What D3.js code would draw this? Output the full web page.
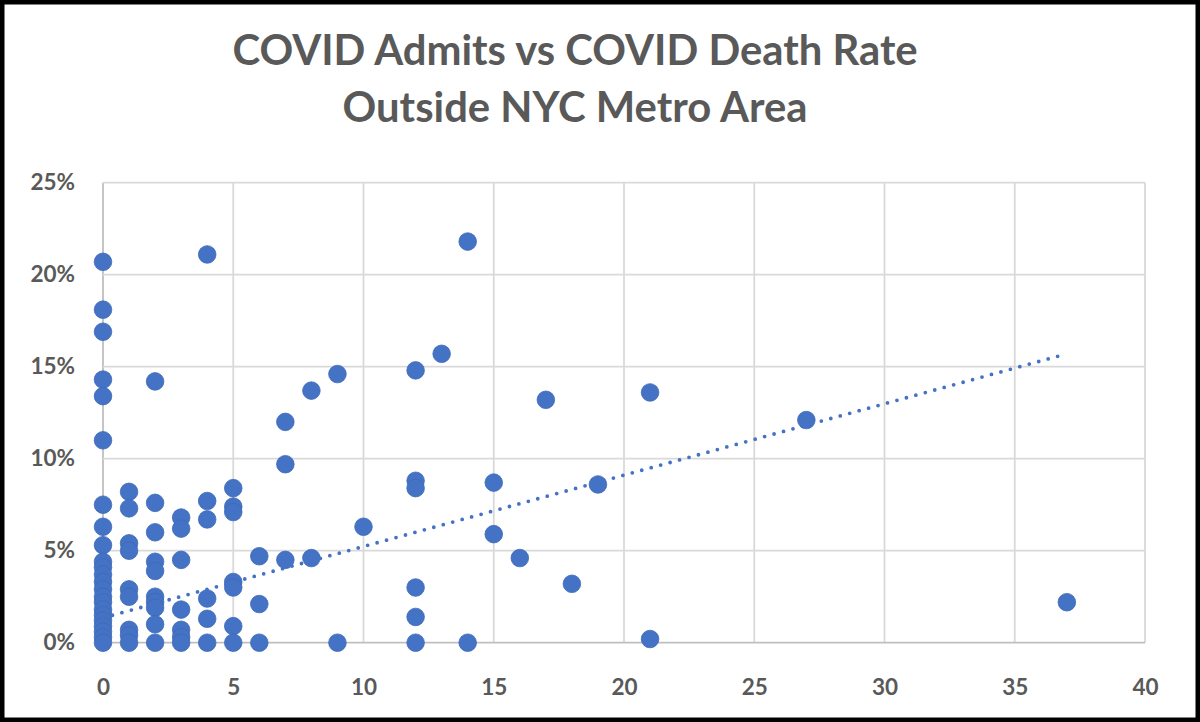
<!DOCTYPE html>
<html>
<head>
<meta charset="utf-8">
<script src="https://cdn.jsdelivr.net/npm/d3@7"></script>
<style>
  body { margin: 0; background: #fff; }
  svg { display: block; }
</style>
</head>
<body>
<div id="chart"></div>
<script>
// admits per hospital (x) and covid death rate in % (y)
const admits = [
  0, 0, 0, 0, 0, 0, 0, 0, 0, 0, 0, 0, 0, 0, 0, 0, 0, 0, 0, 0, 0, 0, 0,
  1, 1, 1, 1, 1, 1, 1, 1, 1,
  2, 2, 2, 2, 2, 2, 2, 2, 2, 2,
  3, 3, 3, 3, 3, 3, 3,
  4, 4, 4, 4, 4, 4,
  5, 5, 5, 5, 5, 5, 5,
  6, 6, 6,
  7, 7, 7,
  8, 8,
  9, 9,
  10,
  12, 12, 12, 12, 12, 12,
  13,
  14, 14,
  15, 15,
  16, 17, 18, 19,
  21, 21,
  27, 37
];
const deathRate = [
  20.7, 18.1, 16.9, 14.3, 13.4, 11.0, 7.5, 6.3, 5.3, 4.4, 4.1, 3.7, 3.3, 2.9, 2.5, 2.2, 1.8, 1.5, 1.2, 0.9, 0.6, 0.3, 0,
  8.2, 7.3, 5.4, 5.0, 2.9, 2.5, 0.7, 0.4, 0,
  14.2, 7.6, 6.0, 4.4, 3.9, 2.5, 2.2, 1.9, 1.0, 0,
  6.8, 6.2, 4.5, 1.8, 0.7, 0.3, 0,
  21.1, 7.7, 6.7, 2.4, 1.3, 0,
  8.4, 7.4, 7.1, 3.3, 3.0, 0.9, 0,
  4.7, 2.1, 0,
  12.0, 9.7, 4.5,
  13.7, 4.6,
  14.6, 0,
  6.3,
  14.8, 8.8, 8.4, 3.0, 1.4, 0,
  15.7,
  21.8, 0,
  8.7, 5.9,
  4.6, 13.2, 3.2, 8.6,
  13.6, 0.2,
  12.1, 2.2
];

// linear trendline as shown in the chart (end points)
const trendX = [0, 37];
const trendY = [1.35, 15.7];

const xTicks = [0, 5, 10, 15, 20, 25, 30, 35, 40];
const yTicks = [0, 5, 10, 15, 20, 25];

const titleLines = ["COVID Admits vs COVID Death Rate", "Outside NYC Metro Area"];

const W = 1200, H = 722;
const plotLeft = 103, plotRight = 1145, plotTop = 182.7, plotBottom = 642.7;
const textColor = "#595959";
const dotColor = "#4472c4";
const font = "Lato, 'Open Sans', sans-serif";

const svg = d3.select("#chart").append("svg")
    .attr("width", W)
    .attr("height", H);

svg.append("rect")
    .attr("width", W)
    .attr("height", H)
    .attr("fill", "#fff");

const x = d3.scaleLinear().domain([0, 40]).range([plotLeft, plotRight]);
const y = d3.scaleLinear().domain([0, 25]).range([plotBottom, plotTop]);

// grid
svg.append("g")
  .selectAll("line")
  .data(xTicks)
  .join("line")
    .attr("x1", d => x(d)).attr("x2", d => x(d))
    .attr("y1", plotTop).attr("y2", plotBottom)
    .attr("stroke", d => d === 0 ? "#bfbfbf" : "#d9d9d9")
    .attr("stroke-width", 1.8);

svg.append("g")
  .selectAll("line")
  .data(yTicks)
  .join("line")
    .attr("x1", plotLeft).attr("x2", plotRight)
    .attr("y1", d => y(d)).attr("y2", d => y(d))
    .attr("stroke", d => d === 0 ? "#bfbfbf" : "#d9d9d9")
    .attr("stroke-width", 1.8);

// axes labels
svg.append("g")
    .attr("transform", `translate(0,${plotBottom})`)
    .call(d3.axisBottom(x).tickValues(xTicks).tickSize(0).tickPadding(36))
    .call(g => g.select(".domain").remove())
    .call(g => g.selectAll("text")
      .attr("fill", textColor)
      .attr("font-family", font)
      .attr("font-weight", "bold")
      .attr("font-size", 22.5));

svg.append("g")
    .attr("transform", `translate(${plotLeft},0)`)
    .call(d3.axisLeft(y).tickValues(yTicks).tickSize(0).tickPadding(28).tickFormat(d => d + "%"))
    .call(g => g.select(".domain").remove())
    .call(g => g.selectAll("text")
      .attr("fill", textColor)
      .attr("font-family", font)
      .attr("font-weight", "bold")
      .attr("font-size", 22.5));

// points
svg.append("g")
  .selectAll("circle")
  .data(d3.range(admits.length))
  .join("circle")
    .attr("cx", i => x(admits[i]))
    .attr("cy", i => y(deathRate[i]))
    .attr("r", 8.8)
    .attr("fill", dotColor)
    .attr("stroke", "#3f6ab8")
    .attr("stroke-width", 0.8);

// trendline
svg.append("path")
    .datum(d3.range(trendX.length))
    .attr("d", d3.line().x(i => x(trendX[i])).y(i => y(trendY[i])))
    .attr("fill", "none")
    .attr("stroke", dotColor)
    .attr("stroke-width", 3.8)
    .attr("stroke-linecap", "round")
    .attr("stroke-dasharray", "0 9.8");

// title
svg.append("g")
  .selectAll("text")
  .data(titleLines)
  .join("text")
    .attr("x", 575)
    .attr("y", (d, i) => 65 + i * 57)
    .attr("text-anchor", "middle")
    .attr("fill", textColor)
    .attr("font-family", font)
    .attr("font-weight", "bold")
    .attr("font-size", 41.8)
    .text(d => d);

// frame
svg.append("rect")
    .attr("x", 2.25).attr("y", 2.25)
    .attr("width", W - 4.5).attr("height", H - 4.5)
    .attr("fill", "none")
    .attr("stroke", "#000")
    .attr("stroke-width", 4.5);
</script>
</body>
</html>
